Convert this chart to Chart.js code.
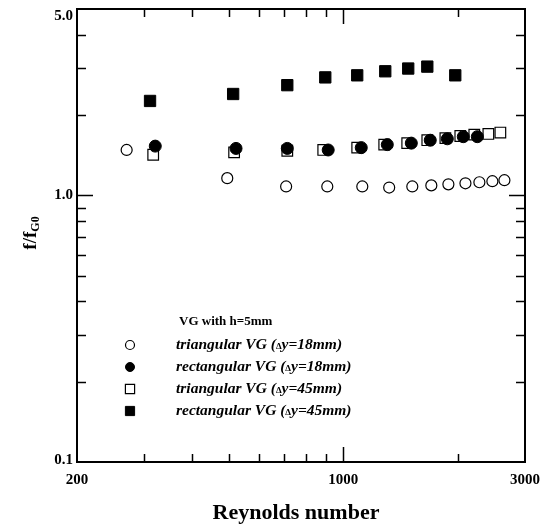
<!DOCTYPE html>
<html>
<head>
<meta charset="utf-8">
<script src="https://cdn.jsdelivr.net/npm/chart.js@4.4.1/dist/chart.umd.min.js"></script>
<style>
    html, body { margin: 0; padding: 0; background: #fff; }
    #wrap { width: 553px; height: 529px; }
</style>
</head>
<body>
<div id="wrap"><canvas id="chart" width="553" height="529"></canvas></div>
<script>
// Friction factor ratio f/fG0 against Reynolds number, VG height 5 mm

// triangular VG, dy = 18 mm (open circles)
const triRe18 = [270, 496, 708, 908, 1122, 1320, 1518, 1703, 1888, 2093, 2277, 2463, 2649];
const triF18 = [1.48, 1.16, 1.08, 1.08, 1.08, 1.07, 1.08, 1.09, 1.10, 1.11, 1.12, 1.13, 1.14];

// rectangular VG, dy = 18 mm (filled circles)
const rectRe18 = [321, 523, 713, 913, 1115, 1305, 1509, 1692, 1876, 2066, 2249];
const rectF18 = [1.53, 1.50, 1.50, 1.48, 1.51, 1.55, 1.57, 1.61, 1.63, 1.66, 1.66];

// triangular VG, dy = 45 mm (open squares)
const triRe45 = [317, 517, 713, 886, 1088, 1281, 1472, 1662, 1854, 2029, 2208, 2404, 2585];
const triF45 = [1.42, 1.45, 1.47, 1.48, 1.51, 1.55, 1.57, 1.61, 1.64, 1.67, 1.69, 1.70, 1.72];

// rectangular VG, dy = 45 mm (filled squares)
const rectRe45 = [311, 514, 713, 897, 1088, 1289, 1481, 1662, 1968];
const rectF45 = [2.26, 2.40, 2.59, 2.77, 2.82, 2.92, 2.99, 3.04, 2.82];

const xTicks = [200, 300, 400, 500, 600, 700, 800, 900, 1000, 2000, 3000];
const xLabels = [200, 1000, 3000];
const yTicks = [0.1, 0.2, 0.3, 0.4, 0.5, 0.6, 0.7, 0.8, 0.9, 1, 2, 3, 4, 5];
const yLabels = [0.1, 1, 5];

const legendTitle = 'VG with h=5mm';
const legendNames = [
    ['triangular VG (', 'y=18mm)'],
    ['rectangular VG (', 'y=18mm)'],
    ['triangular VG (', 'y=45mm)'],
    ['rectangular VG (', 'y=45mm)']
];

const SERIF = '"Liberation Serif", "Times New Roman", serif';

function pairs(xs, ys) {
    return xs.map((x, i) => ({ x: x, y: ys[i] }));
}

// box, inward ticks, y labels, titles and legend
const framePlugin = {
    id: 'frame',
    afterDraw(chart) {
        const ctx = chart.ctx;
        const a = chart.chartArea;
        const xs = chart.scales.x;
        const ys = chart.scales.y;
        ctx.save();
        ctx.strokeStyle = '#000';
        ctx.lineWidth = 2;
        ctx.strokeRect(a.left, a.top, a.right - a.left, a.bottom - a.top);

        ctx.lineWidth = 1.5;
        ctx.beginPath();
        xTicks.forEach(v => {
            if (v === xTicks[0] || v === xTicks[xTicks.length - 1]) return;
            const px = Math.round(xs.getPixelForValue(v)) + 0.5;
            const len = v === 1000 ? 15 : 8;
            ctx.moveTo(px, a.bottom); ctx.lineTo(px, a.bottom - len);
            ctx.moveTo(px, a.top); ctx.lineTo(px, a.top + len);
        });
        yTicks.forEach(v => {
            if (v === yTicks[0] || v === yTicks[yTicks.length - 1]) return;
            const py = Math.round(ys.getPixelForValue(v)) + 0.5;
            const len = v === 1 ? 16 : 9;
            ctx.moveTo(a.left, py); ctx.lineTo(a.left + len, py);
            ctx.moveTo(a.right, py); ctx.lineTo(a.right - len, py);
        });
        ctx.stroke();

        // y tick labels
        ctx.fillStyle = '#000';
        ctx.font = 'bold 15px ' + SERIF;
        ctx.textAlign = 'right';
        ctx.textBaseline = 'middle';
        yLabels.forEach(v => {
            let py = ys.getPixelForValue(v);
            py = Math.max(py, a.top + 7);
            py = Math.min(py, a.bottom - 2);
            ctx.fillText(v.toFixed(1), a.left - 4, py);
        });

        // x title
        ctx.textAlign = 'center';
        ctx.font = 'bold 22px ' + SERIF;
        ctx.fillText('Reynolds number', 296, 513);

        // y title f/fG0
        ctx.save();
        ctx.translate(30, 233);
        ctx.rotate(-Math.PI / 2);
        ctx.textAlign = 'left';
        ctx.textBaseline = 'alphabetic';
        ctx.font = 'bold 19px ' + SERIF;
        const w1 = ctx.measureText('f/f').width;
        ctx.font = 'bold 12px ' + SERIF;
        const w2 = ctx.measureText('G0').width;
        const x0 = -(w1 + w2) / 2;
        ctx.font = 'bold 19px ' + SERIF;
        ctx.fillText('f/f', x0, 6);
        ctx.font = 'bold 12px ' + SERIF;
        ctx.fillText('G0', x0 + w1, 9);
        ctx.restore();

        // legend
        ctx.textAlign = 'left';
        ctx.textBaseline = 'middle';
        ctx.font = 'bold 13px ' + SERIF;
        ctx.fillText(legendTitle, 179, 322);
        chart.data.datasets.forEach((ds, i) => {
            const y = 345 + i * 22;
            ctx.fillStyle = ds.backgroundColor;
            ctx.strokeStyle = ds.borderColor;
            ctx.lineWidth = ds.borderWidth;
            ctx.beginPath();
            if (ds.pointStyle === 'rect') {
                const s = 6.5 * Math.SQRT1_2;
                ctx.rect(130 - s, y - s, 2 * s, 2 * s);
            } else {
                ctx.arc(130, y, 4.5, 0, Math.PI * 2);
            }
            ctx.fill();
            ctx.stroke();

            ctx.fillStyle = '#000';
            let x = 176;
            ctx.font = 'italic bold 15.5px ' + SERIF;
            ctx.fillText(legendNames[i][0], x, y);
            x += ctx.measureText(legendNames[i][0]).width;
            ctx.font = 'bold 9px ' + SERIF;
            ctx.fillText('\u0394', x, y + 2);
            x += ctx.measureText('\u0394').width;
            ctx.font = 'italic bold 15.5px ' + SERIF;
            ctx.fillText(legendNames[i][1], x, y);
        });
        ctx.restore();
    }
};

new Chart(document.getElementById('chart').getContext('2d'), {
    type: 'scatter',
    data: {
        datasets: [{
            label: 'triangular VG (dy=18mm)',
            data: pairs(triRe18, triF18),
            pointStyle: 'circle',
            pointRadius: 5.5,
            backgroundColor: '#fff',
            borderColor: '#000',
            borderWidth: 1.2,
            order: 2
        }, {
            label: 'rectangular VG (dy=18mm)',
            data: pairs(rectRe18, rectF18),
            pointStyle: 'circle',
            pointRadius: 6,
            backgroundColor: '#000',
            borderColor: '#000',
            borderWidth: 1,
            order: 0
        }, {
            label: 'triangular VG (dy=45mm)',
            data: pairs(triRe45, triF45),
            pointStyle: 'rect',
            pointRadius: 7.5,
            backgroundColor: '#fff',
            borderColor: '#000',
            borderWidth: 1.2,
            order: 1
        }, {
            label: 'rectangular VG (dy=45mm)',
            data: pairs(rectRe45, rectF45),
            pointStyle: 'rect',
            pointRadius: 8,
            backgroundColor: '#000',
            borderColor: '#000',
            borderWidth: 1,
            order: 3
        }]
    },
    options: {
        responsive: false,
        animation: false,
        devicePixelRatio: 1,
        layout: { padding: { left: 0, right: 28, top: 5, bottom: 0 } },
        plugins: {
            legend: { display: false },
            tooltip: { enabled: false }
        },
        scales: {
            x: {
                type: 'logarithmic',
                min: 200,
                max: 3000,
                afterBuildTicks: scale => { scale.ticks = xTicks.map(v => ({ value: v })); },
                afterFit: scale => { scale.height = 67; },
                grid: { display: false, drawTicks: false },
                border: { display: false },
                ticks: {
                    autoSkip: false,
                    maxRotation: 0,
                    padding: 9,
                    color: '#000',
                    font: { family: SERIF, size: 15, weight: 'bold' },
                    callback: v => xLabels.includes(v) ? String(v) : ''
                }
            },
            y: {
                type: 'logarithmic',
                min: 0.1,
                max: 5,
                afterBuildTicks: scale => { scale.ticks = yTicks.map(v => ({ value: v })); },
                afterFit: scale => { scale.width = 77; },
                grid: { display: false, drawTicks: false },
                border: { display: false },
                ticks: { display: false }
            }
        }
    },
    plugins: [framePlugin]
});
</script>
</body>
</html>
